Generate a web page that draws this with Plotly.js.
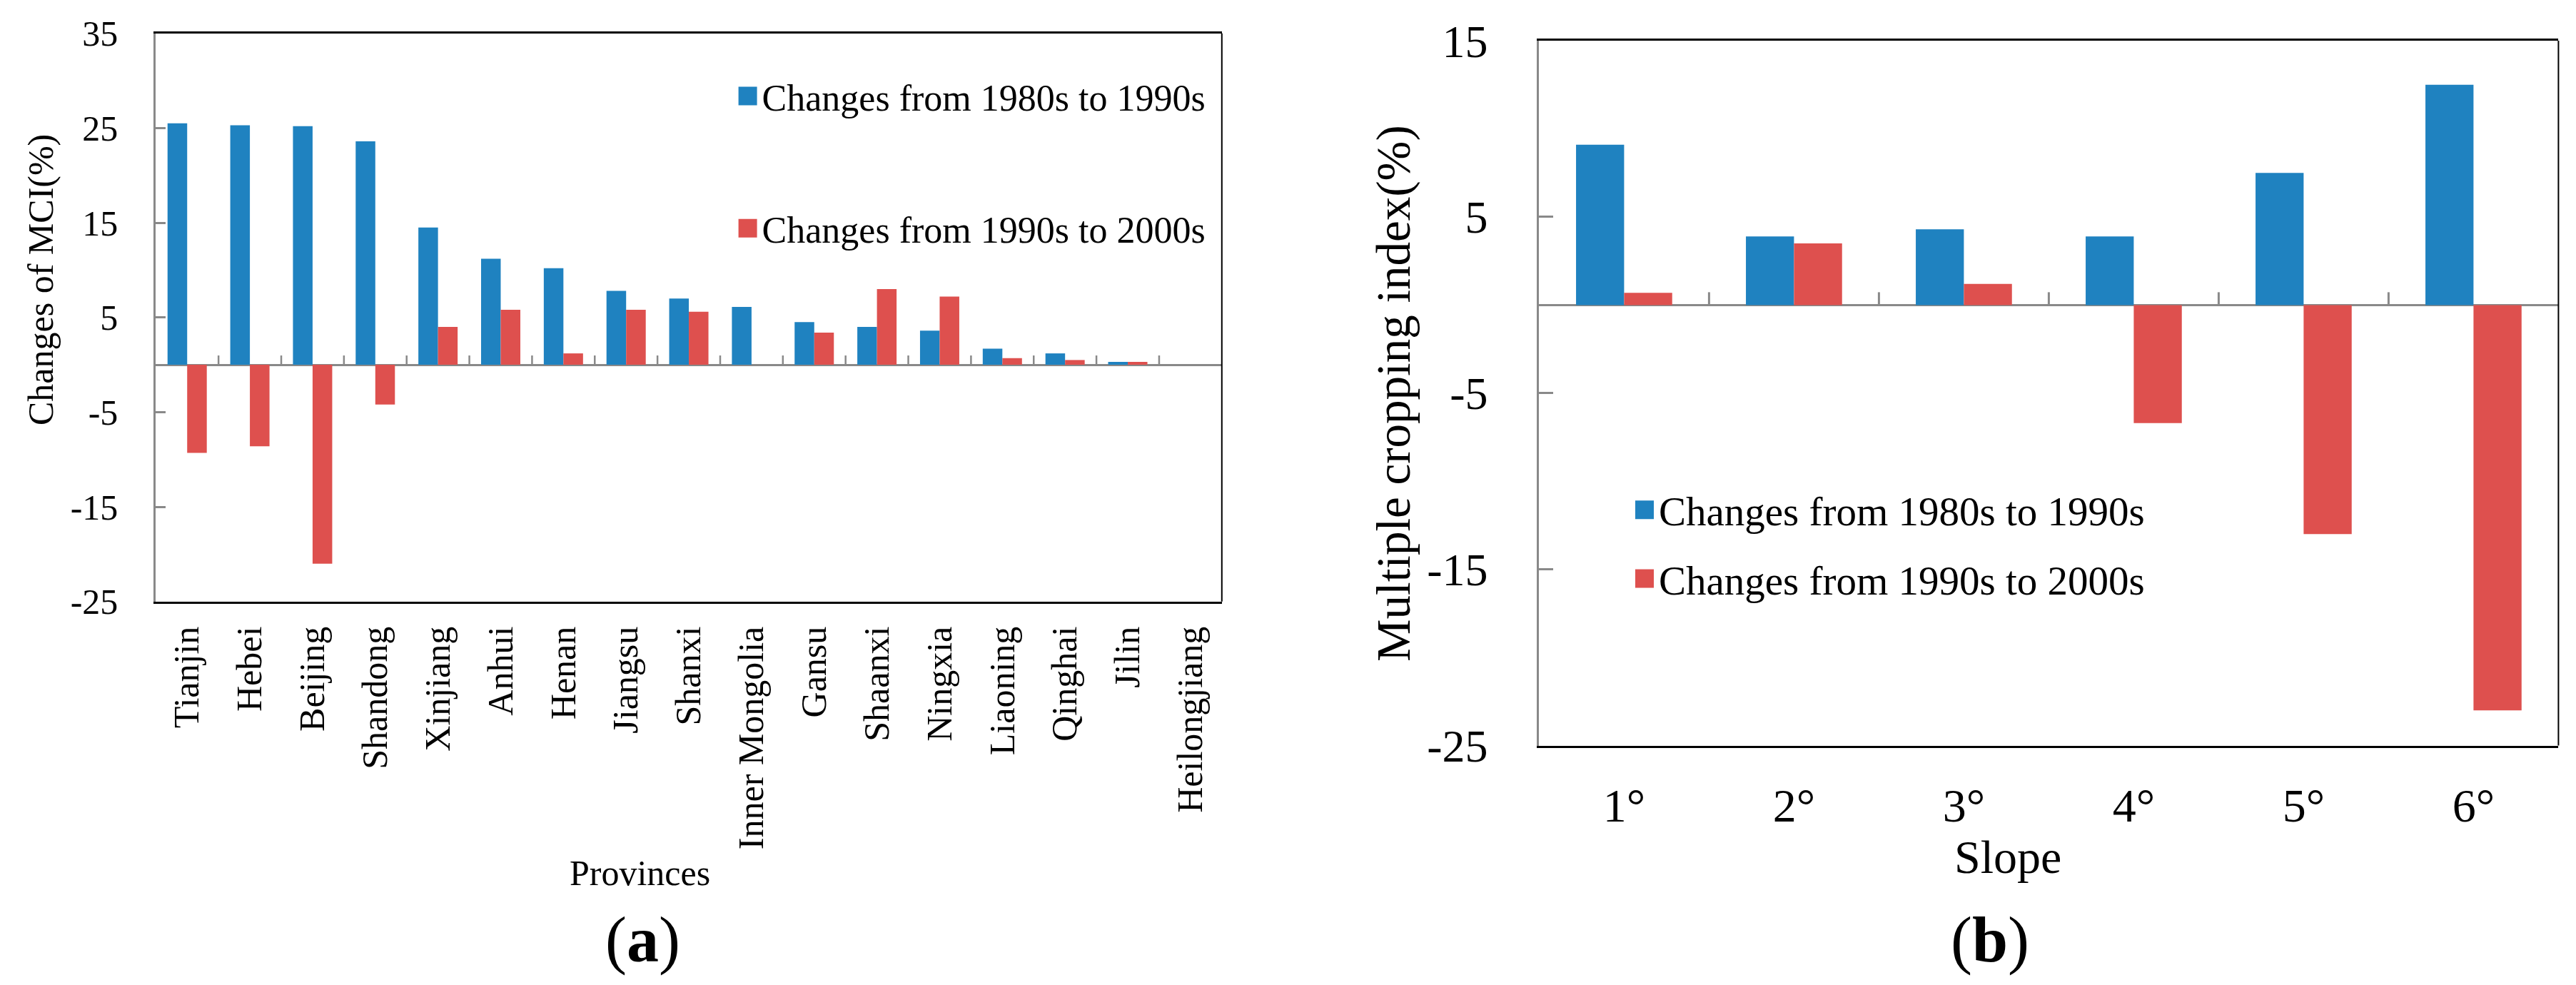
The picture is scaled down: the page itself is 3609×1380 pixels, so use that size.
<!DOCTYPE html>
<html>
<head>
<meta charset="utf-8">
<script src="https://cdn.plot.ly/plotly-3.0.1.min.js"></script>
<style>html,body{margin:0;padding:0;background:#fff;}</style>
</head>
<body>
<div id="chart"></div>
<script>
// ---------- data ----------
const provinces = ['Tianjin','Hebei','Beijing','Shandong','Xinjiang','Anhui','Henan','Jiangsu','Shanxi','Inner Mongolia','Gansu','Shaanxi','Ningxia','Liaoning','Qinghai','Jilin','Heilongjiang'];
const provChange8090 = [25.5, 25.3, 25.2, 23.6, 14.5, 11.2, 10.2, 7.8, 7.0, 6.1, 4.5, 4.0, 3.6, 1.7, 1.2, 0.3, 0];
const provChange9000 = [-9.3, -8.6, -21.0, -4.2, 4.0, 5.8, 1.2, 5.8, 5.6, 0, 3.4, 8.0, 7.2, 0.7, 0.5, 0.3, 0];

const slopes = ['1°','2°','3°','4°','5°','6°'];
const slopeChange8090 = [9.1, 3.9, 4.3, 3.9, 7.5, 12.5];
const slopeChange9000 = [0.7, 3.5, 1.2, -6.7, -13.0, -23.0];

const seriesNames = ['Changes from 1980s to 1990s', 'Changes from 1990s to 2000s'];
const leftTickVals = [-25, -15, -5, 5, 15, 25, 35];
const leftTickText = ['-25', '-15', '-5', '5', '15', '25', '35'];
const rightTickVals = [-25, -15, -5, 5, 15];
const rightTickText = ['-25', '-15', '-5', '5', '15'];

// ---------- style ----------
const W = 3609, H = 1380;
const fx = p => p / W;
const fy = p => 1 - p / H;
const FONT = '"Liberation Serif", "Times New Roman", Times, serif';
const BLUE = '#1F82C0';
const RED = '#DE504E';
const GRAY = '#898989';

const traces = [
  {type:'bar', x: provinces, y: provChange8090, name: seriesNames[0], marker:{color: BLUE},
   width: 0.313, offset: -0.313, xaxis:'x', yaxis:'y', legend:'legend', hoverinfo:'skip'},
  {type:'bar', x: provinces, y: provChange9000, name: seriesNames[1], marker:{color: RED},
   width: 0.313, offset: 0, xaxis:'x', yaxis:'y', legend:'legend2', hoverinfo:'skip'},
  {type:'bar', x: slopes, y: slopeChange8090, name: seriesNames[0], marker:{color: BLUE},
   width: 0.283, offset: -0.283, xaxis:'x2', yaxis:'y2', legend:'legend3', hoverinfo:'skip'},
  {type:'bar', x: slopes, y: slopeChange9000, name: seriesNames[1], marker:{color: RED},
   width: 0.283, offset: 0, xaxis:'x2', yaxis:'y2', legend:'legend4', hoverinfo:'skip'}
];

// category boundary ticks on the zero line
const shapes = [];
for (let i = 0; i < provinces.length - 1; i++) {
  shapes.push({type:'line', xref:'x', yref:'y', ysizemode:'pixel', yanchor:0,
    x0: i + 0.5, x1: i + 0.5, y0: 0, y1: 13, line:{color: GRAY, width: 2.5}});
}
for (let i = 0; i < slopes.length - 1; i++) {
  shapes.push({type:'line', xref:'x2', yref:'y2', ysizemode:'pixel', yanchor:0,
    x0: i + 0.5, x1: i + 0.5, y0: 0, y1: 18, line:{color: GRAY, width: 3}});
}
// right borders
shapes.push({type:'line', xref:'x domain', yref:'y domain', x0:1, x1:1, y0:0, y1:1, line:{color:'#000', width:2}});
shapes.push({type:'line', xref:'x2 domain', yref:'y2 domain', x0:1, x1:1, y0:0, y1:1, line:{color:'#000', width:2}});

const xBase = {type:'category', showline:true, linecolor:'#000', linewidth:3, mirror:true,
  ticks:'', showgrid:false, zeroline:false, fixedrange:true, automargin:false};
const yBase = {showline:true, linecolor:GRAY, linewidth:3, ticks:'inside', tickwidth:3, tickcolor:GRAY,
  zeroline:true, zerolinecolor:GRAY, zerolinewidth:3, showgrid:false, fixedrange:true, automargin:false};

const layout = {
  width: W, height: H,
  margin:{l:0, r:0, t:0, b:0},
  paper_bgcolor:'#fff', plot_bgcolor:'#fff',
  font:{family: FONT, color:'#000'},
  barmode:'overlay',
  showlegend:true,
  xaxis: Object.assign({}, xBase, {domain:[fx(218.3), fx(1711.8)], anchor:'y',
    tickangle:-90, tickfont:{family:FONT, size:50, color:'#000'}, ticklabelstandoff: 12}),
  yaxis: Object.assign({}, yBase, {domain:[fy(842.7), fy(46.7)], anchor:'x', range:[-25, 35],
    tickvals: leftTickVals, ticktext: leftTickText, ticklen:14,
    tickfont:{family:FONT, size:50, color:'#000'}, ticklabelstandoff: 40}),
  xaxis2: Object.assign({}, xBase, {domain:[fx(2156.4), fx(3584.4)], anchor:'y2',
    tickangle:0, tickfont:{family:FONT, size:66, color:'#000'}, ticklabelstandoff: 24}),
  yaxis2: Object.assign({}, yBase, {domain:[fy(1044.6), fy(57.1)], anchor:'x2', range:[-25, 15],
    tickvals: rightTickVals, ticktext: rightTickText, ticklen:20,
    tickfont:{family:FONT, size:64, color:'#000'}, ticklabelstandoff: 56}),
  legend:  {x: fx(1027.6), y: fy(134.6), xanchor:'left', yanchor:'middle', bgcolor:'rgba(0,0,0,0)', borderwidth:0, font:{family:FONT, size:52, color:'#000'}},
  legend2: {x: fx(1027.6), y: fy(320),   xanchor:'left', yanchor:'middle', bgcolor:'rgba(0,0,0,0)', borderwidth:0, font:{family:FONT, size:52, color:'#000'}},
  legend3: {x: fx(2284),   y: fy(714.7), xanchor:'left', yanchor:'middle', bgcolor:'rgba(0,0,0,0)', borderwidth:0, font:{family:FONT, size:57, color:'#000'}},
  legend4: {x: fx(2284),   y: fy(811),   xanchor:'left', yanchor:'middle', bgcolor:'rgba(0,0,0,0)', borderwidth:0, font:{family:FONT, size:57, color:'#000'}},
  shapes: shapes,
  annotations: [
    {text:'Changes of MCI(%)', xref:'paper', yref:'paper', x: fx(57), y: fy(392), textangle:-90,
     showarrow:false, xanchor:'center', yanchor:'middle', font:{family:FONT, size:50, color:'#000'}},
    {text:'Provinces', xref:'paper', yref:'paper', x: fx(896), y: fy(1223),
     showarrow:false, xanchor:'center', yanchor:'middle', font:{family:FONT, size:50, color:'#000'}},
    {text:'(<b>a</b>)', xref:'paper', yref:'paper', x: fx(900), y: fy(1317),
     showarrow:false, xanchor:'center', yanchor:'middle', font:{family:FONT, size:90, color:'#000'}},
    {text:'Multiple cropping index(%)', xref:'paper', yref:'paper', x: fx(1953), y: fy(551), textangle:-90,
     showarrow:false, xanchor:'center', yanchor:'middle', font:{family:FONT, size:67, color:'#000'}},
    {text:'Slope', xref:'paper', yref:'paper', x: fx(2813), y: fy(1200),
     showarrow:false, xanchor:'center', yanchor:'middle', font:{family:FONT, size:66, color:'#000'}},
    {text:'(<b>b</b>)', xref:'paper', yref:'paper', x: fx(2788), y: fy(1317),
     showarrow:false, xanchor:'center', yanchor:'middle', font:{family:FONT, size:90, color:'#000'}}
  ]
};

const gd = document.getElementById('chart');
function enlargeLegendSymbols() {
  gd.querySelectorAll('.legendpoints path').forEach(p => p.setAttribute('d', 'M13,13H-13V-13H13Z'));
}
Plotly.newPlot(gd, traces, layout, {staticPlot:true, displayModeBar:false}).then(() => {
  enlargeLegendSymbols();
  gd.on('plotly_afterplot', enlargeLegendSymbols);
});
</script>
</body>
</html>
